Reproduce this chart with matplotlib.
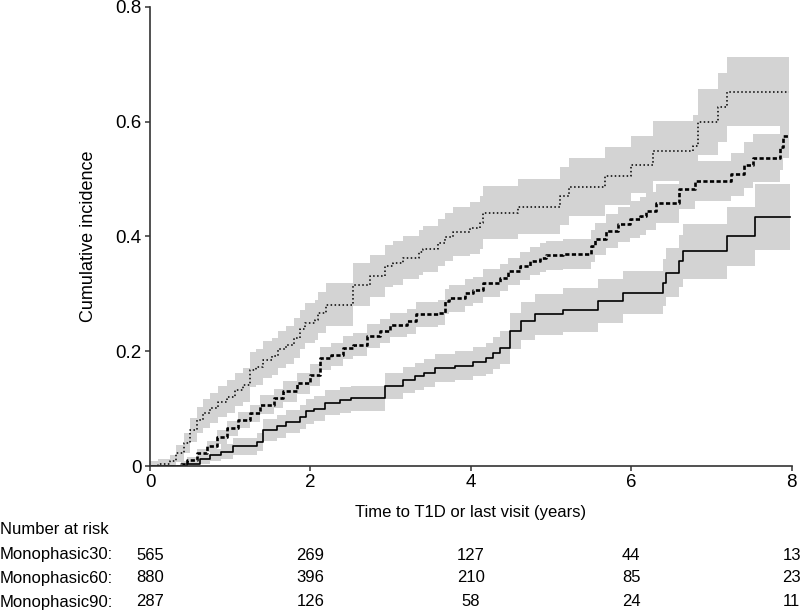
import numpy as np
import matplotlib
matplotlib.use("Agg")
import matplotlib.pyplot as plt
import matplotlib.transforms as mtransforms

plt.rcParams['font.family'] = ['Liberation Sans', 'DejaVu Sans']

# Monophasic30 (solid)
t30 = [0, 0.46, 0.62, 0.75, 0.89, 1.04, 1.33, 1.41, 1.58, 1.70,
       1.87, 1.95, 2.04, 2.18, 2.37, 2.50, 2.93, 3.16, 3.30, 3.42,
       3.55, 3.80, 4.03, 4.19, 4.28, 4.36, 4.49, 4.63, 4.80, 5.15,
       5.59, 5.90, 6.40, 6.44, 6.60, 6.65, 7.19, 7.54, 7.98]
ci30 = [0, 0.004, 0.012, 0.019, 0.025, 0.034, 0.042, 0.063, 0.069, 0.077,
        0.086, 0.095, 0.100, 0.110, 0.115, 0.118, 0.139, 0.150, 0.156, 0.162,
        0.171, 0.175, 0.182, 0.188, 0.197, 0.206, 0.235, 0.252, 0.264, 0.272,
        0.287, 0.302, 0.319, 0.337, 0.357, 0.374, 0.400, 0.434, 0.434]
hw30 = [0, 0.004, 0.008, 0.011, 0.013, 0.015, 0.016, 0.019, 0.020, 0.020,
        0.021, 0.021, 0.022, 0.022, 0.022, 0.022, 0.023, 0.023, 0.024, 0.024,
        0.024, 0.025, 0.026, 0.027, 0.028, 0.029, 0.031, 0.033, 0.035, 0.038,
        0.038, 0.038, 0.041, 0.043, 0.045, 0.048, 0.052, 0.058, 0.058]

# Monophasic60 (dashed)
t60 = [0, 0.39, 0.46, 0.58, 0.71, 0.83, 0.96, 1.10, 1.25, 1.37,
       1.54, 1.66, 1.83, 1.99, 2.12, 2.26, 2.41, 2.53, 2.70, 2.87,
       2.99, 3.20, 3.32, 3.59, 3.68, 3.73, 3.93, 4.03, 4.15, 4.36,
       4.47, 4.61, 4.74, 4.86, 4.94, 5.15, 5.50, 5.55, 5.69, 5.84,
       5.98, 6.11, 6.19, 6.31, 6.60, 6.79, 7.25, 7.41, 7.52, 7.85,
       7.89, 7.97]
ci60 = [0, 0.004, 0.010, 0.022, 0.034, 0.051, 0.066, 0.080, 0.092, 0.107,
        0.118, 0.130, 0.144, 0.159, 0.188, 0.194, 0.206, 0.211, 0.226, 0.235,
        0.246, 0.252, 0.264, 0.267, 0.287, 0.292, 0.302, 0.307, 0.319, 0.328,
        0.339, 0.348, 0.357, 0.363, 0.367, 0.370, 0.383, 0.395, 0.409, 0.421,
        0.430, 0.435, 0.444, 0.458, 0.482, 0.497, 0.508, 0.524, 0.537, 0.555,
        0.575, 0.575]
hw60 = [0, 0.004, 0.006, 0.008, 0.010, 0.012, 0.013, 0.014, 0.015, 0.016,
        0.017, 0.018, 0.018, 0.019, 0.020, 0.020, 0.020, 0.020, 0.021, 0.021,
        0.021, 0.022, 0.022, 0.022, 0.022, 0.023, 0.023, 0.023, 0.024, 0.024,
        0.024, 0.024, 0.025, 0.025, 0.025, 0.026, 0.028, 0.028, 0.030, 0.031,
        0.032, 0.033, 0.033, 0.034, 0.035, 0.035, 0.038, 0.040, 0.042, 0.040,
        0.038, 0.038]

# Monophasic90 (dotted)
t90 = [0, 0.10, 0.25, 0.33, 0.42, 0.50, 0.58, 0.66, 0.75, 0.85,
       0.96, 1.06, 1.16, 1.25, 1.32, 1.41, 1.52, 1.60, 1.70, 1.79,
       1.87, 1.93, 2.06, 2.10, 2.20, 2.53, 2.74, 2.93, 3.03, 3.16,
       3.36, 3.41, 3.59, 3.68, 3.78, 3.99, 4.11, 4.15, 4.59, 5.11,
       5.23, 5.67, 6.00, 6.27, 6.77, 6.83, 7.08, 7.19, 7.97]
ci90 = [0, 0.003, 0.008, 0.022, 0.040, 0.063, 0.080, 0.092, 0.101, 0.112,
        0.121, 0.133, 0.141, 0.168, 0.172, 0.185, 0.191, 0.203, 0.211, 0.223,
        0.238, 0.249, 0.255, 0.267, 0.281, 0.316, 0.331, 0.348, 0.354, 0.363,
        0.372, 0.378, 0.389, 0.399, 0.408, 0.415, 0.424, 0.441, 0.452, 0.470,
        0.486, 0.505, 0.525, 0.549, 0.558, 0.599, 0.625, 0.652, 0.652]
hw90 = [0.008, 0.010, 0.012, 0.015, 0.018, 0.021, 0.023, 0.025, 0.026, 0.027,
        0.028, 0.029, 0.030, 0.031, 0.031, 0.032, 0.032, 0.033, 0.033, 0.034,
        0.034, 0.035, 0.035, 0.036, 0.037, 0.037, 0.037, 0.037, 0.038, 0.038,
        0.039, 0.040, 0.041, 0.042, 0.043, 0.045, 0.046, 0.046, 0.048, 0.050,
        0.050, 0.050, 0.050, 0.052, 0.053, 0.058, 0.060, 0.060, 0.060]

risk_times = [0, 2, 4, 6, 8]
risk_labels = ["Monophasic30:", "Monophasic60:", "Monophasic90:"]
risk_counts = [[565, 269, 127, 44, 13],
               [880, 396, 210, 85, 23],
               [287, 126, 58, 24, 11]]

fig = plt.figure(figsize=(8, 6.11), dpi=100)
ax = fig.add_axes([0.1875, 0.2373, 0.802, 0.7517])

band = '#d3d3d3'
series = [(t30, ci30, hw30, dict(ls='-', lw=1.2)),
          (t60, ci60, hw60, dict(ls=(0, (1.6, 0.9)), lw=1.9)),
          (t90, ci90, hw90, dict(ls=(0, (1.0, 1.6)), lw=1.1))]

for t, v, hw, _ in series:
    v = np.array(v)
    hw = np.array(hw)
    ax.fill_between(t, np.clip(v - hw, 0, None), v + hw, step='post',
                    color=band, lw=0)

for t, v, hw, style in series:
    ax.step(t, v, where='post', color='black', **style)

ax.set_xlim(0, 8)
ax.set_ylim(0, 0.8)
ax.set_xticks([0, 2, 4, 6, 8])
ax.set_yticks([0, 0.2, 0.4, 0.6, 0.8])
ax.set_yticklabels(['0', '0.2', '0.4', '0.6', '0.8'])
ax.tick_params(direction='out', length=3.5, width=1.1, labelsize=13.5,
               color='#333333', pad=2.5)

for s in ['top', 'right']:
    ax.spines[s].set_visible(False)
for s in ['left', 'bottom']:
    ax.spines[s].set_linewidth(1.2)
    ax.spines[s].set_color('#333333')

ax.set_xlabel("Time to T1D or last visit (years)", fontsize=12)
ax.xaxis.set_label_coords(0.5, (466 - 512) / 459.3)
ax.xaxis.label.set_va('center')
ax.set_ylabel("Cumulative incidence", fontsize=13)
ax.yaxis.set_label_coords((88 - 150) / 641.7, 0.5)
ax.yaxis.label.set_va('center')

trans = mtransforms.blended_transform_factory(ax.transData, fig.transFigure)
fig.text(0.0, 1 - 530 / 611, "Number at risk", fontsize=12, va='center', ha='left')
row_y = [555, 578, 602]
for lab, counts, yy in zip(risk_labels, risk_counts, row_y):
    fy = 1 - yy / 611
    fig.text(0.0, fy, lab, fontsize=12, va='center', ha='left')
    for x, n in zip(risk_times, counts):
        ax.text(x, fy, str(n), transform=trans, fontsize=12,
                va='center', ha='center', clip_on=False)

fig.savefig("out.png", dpi=100)
